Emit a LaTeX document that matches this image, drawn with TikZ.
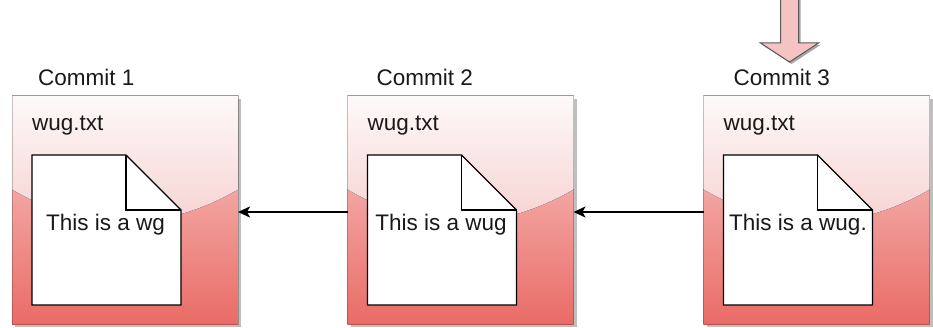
\documentclass[tikz,border=0pt]{standalone}
\usepackage{fontspec}
\setmainfont{Liberation Sans}
\usetikzlibrary{calc,shadows,arrows.meta}
\definecolor{boxtop}{HTML}{F8CECC}
\definecolor{boxbot}{HTML}{EA6B66}
\definecolor{glasstop}{HTML}{FEF9F9}
\definecolor{glassbot}{HTML}{F0B4B3}
\definecolor{arrowfill}{HTML}{F5C3C1}
\tikzset{
  commitbox/.style={rectangle, minimum width=226pt, minimum height=228pt,
    inner sep=0pt, outer sep=0pt, top color=boxtop, bottom color=boxbot,
    drop shadow={shadow xshift=3pt, shadow yshift=-3pt, opacity=0.25, fill=black},
    path picture={
      \fill[top color=glasstop, bottom color=glassbot]
        (path picture bounding box.north west)
        -- ($(path picture bounding box.north west)!0.41!(path picture bounding box.south west)$)
        .. controls ($(path picture bounding box.north west)!0.6!(path picture bounding box.south west)+(75pt,0)$)
        and ($(path picture bounding box.north east)!0.6!(path picture bounding box.south east)+(-75pt,0)$)
        .. ($(path picture bounding box.north east)!0.41!(path picture bounding box.south east)$)
        -- (path picture bounding box.north east) -- cycle;
    }},
  boxedge/.style={draw=black, draw opacity=0.22, line width=1pt},
  docarea/.style={rectangle, minimum width=149pt, minimum height=150pt, inner sep=0pt, outer sep=0pt},
  docline/.style={draw=black, line width=1.3pt, fill=white, line join=miter},
  lbl/.style={inner sep=0pt, anchor=base west, font=\fontsize{22.5}{26}\selectfont, text=black!90},
  doctext/.style={inner sep=0pt, anchor=base, font=\fontsize{22.5}{26}\selectfont, text=black!90},
  conn/.style={draw=black, line width=1.5pt, -{Stealth[length=12pt,width=11pt,inset=3pt]}},
  pointer/.style={fill=arrowfill, draw=black!65, line width=1pt,
    drop shadow={shadow xshift=2pt, shadow yshift=-2pt, opacity=0.35, fill=black}}
}
\begin{document}
\begin{tikzpicture}[x=1pt,y=-1pt]
\useasboundingbox (0,0) rectangle (933,328);
% commit boxes
\foreach \n/\cx in {1/125, 2/460.5, 3/816.5}{
  \node[commitbox] (b\n) at (\cx,210) {};
  \draw[boxedge] (b\n.north west) rectangle (b\n.south east);
}
% labels
\node[lbl] (t1) at ($(b1.north west)+(26,-10)$) {Commit 1};
\node[lbl] (t2) at ($(b2.north west)+(29,-10)$) {Commit 2};
\node[lbl] (t3) at ($(b3.north west)+(30,-10)$) {Commit 3};
\foreach \n in {1,2,3}{
  \node[lbl] (f\n) at ($(b\n.north west)+(20,35)$) {wug.txt};
  \node[docarea] (d\n) at ($(b\n.north west)+(94.5,134)$) {};
  \draw[docline] (d\n.north west) -- ($(d\n.north east)+(-55,0)$)
     -- ($(d\n.north east)+(0,55)$) -- (d\n.south east) -- (d\n.south west) -- cycle;
  \draw[docline, fill=none] ($(d\n.north east)+(-55,0)$) -- ($(d\n.north east)+(-55,55)$)
     -- ($(d\n.north east)+(0,55)$);
}
\node[doctext] (x1) at ($(d1.north)+(-1,76)$) {This is a wg};
\node[doctext] (x2) at ($(d2.north)+(-1,76)$) {This is a wug};
\node[doctext] (x3) at ($(d3.north)+(0,76)$) {This is a wug.};
% connectors
\draw[conn] ([yshift=-2pt]b2.west) -- ([yshift=-2pt]b1.east);
\draw[conn] ([yshift=-2pt]b3.west) -- ([yshift=-2pt]b2.east);
% head pointer
\coordinate (tip) at (789.5,62);
\path[pointer] ($(tip)+(-9,-66)$) -- ($(tip)+(9,-66)$) -- ($(tip)+(9,-19)$)
  -- ($(tip)+(29,-19)$) -- (tip) -- ($(tip)+(-29,-19)$) -- ($(tip)+(-9,-19)$) -- cycle;
\end{tikzpicture}
\end{document}
